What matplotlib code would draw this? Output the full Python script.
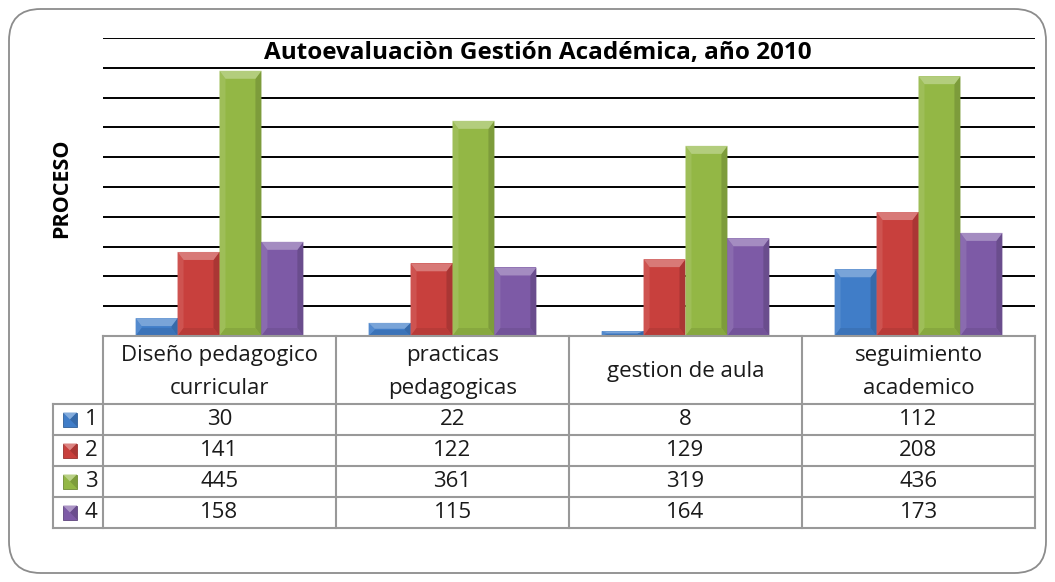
import numpy as np
import matplotlib.pyplot as plt
from matplotlib.patches import Polygon, FancyBboxPatch, Rectangle
from matplotlib.colors import to_rgb

plt.rcParams['font.family'] = ['Open Sans', 'DejaVu Sans']

# Datos
title = 'Autoevaluaciòn Gestión Académica, año 2010'
categories = ['Diseño pedagogico\ncurricular', 'practicas\npedagogicas',
              'gestion de aula', 'seguimiento\nacademico']
series_names = ['1', '2', '3', '4']
serie_1 = [30, 22, 8, 112]
serie_2 = [141, 122, 129, 208]
serie_3 = [445, 361, 319, 436]
serie_4 = [158, 115, 164, 173]
series = [serie_1, serie_2, serie_3, serie_4]
colors = ['#407dc8', '#c8403d', '#93b745', '#7d5aa6']


def mix(c, other, t):
    c = np.array(to_rgb(c))
    return tuple(c * (1 - t) + np.array(other) * t)


# Function to give the bars a bevel look like the excel chart
def bevel(ax, rect, color, px_x, px_y):
    x, w, h = rect.get_x(), rect.get_width(), rect.get_height()
    bx = 6 / px_x
    by = min(8 / px_y, h * 0.45)
    light = mix(color, (1, 1, 1), 0.3)
    side_l = mix(color, (1, 1, 1), 0.1)
    side_r = mix(color, (0, 0, 0), 0.15)
    bottom = mix(color, (0, 0, 0), 0.08)
    polys = [
        ([(x, 0), (x, h), (x + bx, h - by), (x + bx, by)], side_l),
        ([(x + w, 0), (x + w, h), (x + w - bx, h - by), (x + w - bx, by)], side_r),
        ([(x, 0), (x + w, 0), (x + w - bx, by), (x + bx, by)], bottom),
        ([(x, h), (x + w, h), (x + w - bx, h - by), (x + bx, h - by)], light),
    ]
    for pts, col in polys:
        ax.add_patch(Polygon(pts, closed=True, facecolor=col, edgecolor='none', zorder=3))


W, H = 1055, 582
fig = plt.figure(figsize=(W / 100, H / 100), dpi=100)

# marco redondeado
frame = FancyBboxPatch((9 / W, 9 / H), 1037 / W, 564 / H,
                       boxstyle='round,pad=0,rounding_size=0.03',
                       transform=fig.transFigure, facecolor='white',
                       edgecolor='#8c8c8c', linewidth=1.3,
                       mutation_aspect=W / H, zorder=-10)
fig.patches.append(frame)

left, right = 103, 1035
top, base = 38, 336
ax = fig.add_axes([left / W, (H - base) / H, (right - left) / W, (base - top) / H])
ax.set_xlim(-0.5, len(categories) - 0.5)
ax.set_ylim(0, 500)
ax.set_yticks(np.arange(50, 501, 50))
ax.yaxis.grid(True, color='black', linewidth=1.4)
ax.set_axisbelow(True)
ax.tick_params(left=False, bottom=False, labelleft=False, labelbottom=False)
for s in ax.spines.values():
    s.set_visible(False)
ax.patch.set_alpha(0)

px_x = (right - left) / len(categories)
px_y = (base - top) / 500.0
x = np.arange(len(categories))
bw = 0.18
for i, vals in enumerate(series):
    bars = ax.bar(x + (i - 1.5) * bw, vals, bw, color=colors[i], zorder=2)
    for r in bars:
        bevel(ax, r, colors[i], px_x, px_y)

ax.text((538 - left) / (right - left), 0.948, title, transform=ax.transAxes,
        ha='center', va='center', fontsize=17.5, fontweight='bold')
fig.text(62 / W, 1 - 188 / H, 'PROCESO', rotation=90, ha='center', va='center',
         fontsize=15.5, fontweight='bold')

# tabla de datos
tab_bottom = 528
header_h = 68
row_h = 31
tax = fig.add_axes([left / W, (H - tab_bottom) / H, (right - left) / W, (tab_bottom - base) / H])
tax.set_xlim(-0.5, len(categories) - 0.5)
tax.set_ylim(tab_bottom - base, 0)
tax.axis('off')
grey = '#999999'
lw = 1.5
key_left = -0.5 - 50 / px_x
tax.plot([-0.5, 3.5], [0, 0], color=grey, lw=lw, clip_on=False)
for k in range(5):
    y = header_h + k * row_h
    tax.plot([key_left, 3.5], [y, y], color=grey, lw=lw, clip_on=False)
tax.plot([key_left, key_left], [header_h, header_h + 4 * row_h], color=grey, lw=lw, clip_on=False)
for c in range(5):
    tax.plot([c - 0.5, c - 0.5], [0, header_h + 4 * row_h], color=grey, lw=lw, clip_on=False)

for c, cat in enumerate(categories):
    tax.text(c, header_h / 2 + 2, cat, ha='center', va='center', fontsize=16,
             linespacing=1.72, color='#1a1a1a')
    for k, vals in enumerate(series):
        tax.text(c, header_h + (k + 0.5) * row_h, str(vals[c]), ha='center',
                 va='center', fontsize=16, color='#1a1a1a')

for k, name in enumerate(series_names):
    yc = header_h + (k + 0.5) * row_h
    sx = key_left + 10 / px_x
    sw = 14 / px_x
    s = 7
    tax.add_patch(Rectangle((sx, yc - s), sw, 2 * s, facecolor=colors[k],
                            edgecolor=mix(colors[k], (0, 0, 0), 0.25), lw=0.6,
                            clip_on=False))
    tax.add_patch(Polygon([(sx, yc - s), (sx + sw, yc - s), (sx + sw * 0.5, yc)],
                          facecolor=mix(colors[k], (1, 1, 1), 0.35),
                          edgecolor='none', clip_on=False))
    tax.add_patch(Polygon([(sx + sw, yc - s), (sx + sw, yc + s), (sx + sw * 0.5, yc)],
                          facecolor=mix(colors[k], (0, 0, 0), 0.15),
                          edgecolor='none', clip_on=False))
    tax.text(key_left + 38 / px_x, yc, name, ha='center', va='center', fontsize=16,
             color='#1a1a1a')

fig.savefig('out.png', dpi=100)
